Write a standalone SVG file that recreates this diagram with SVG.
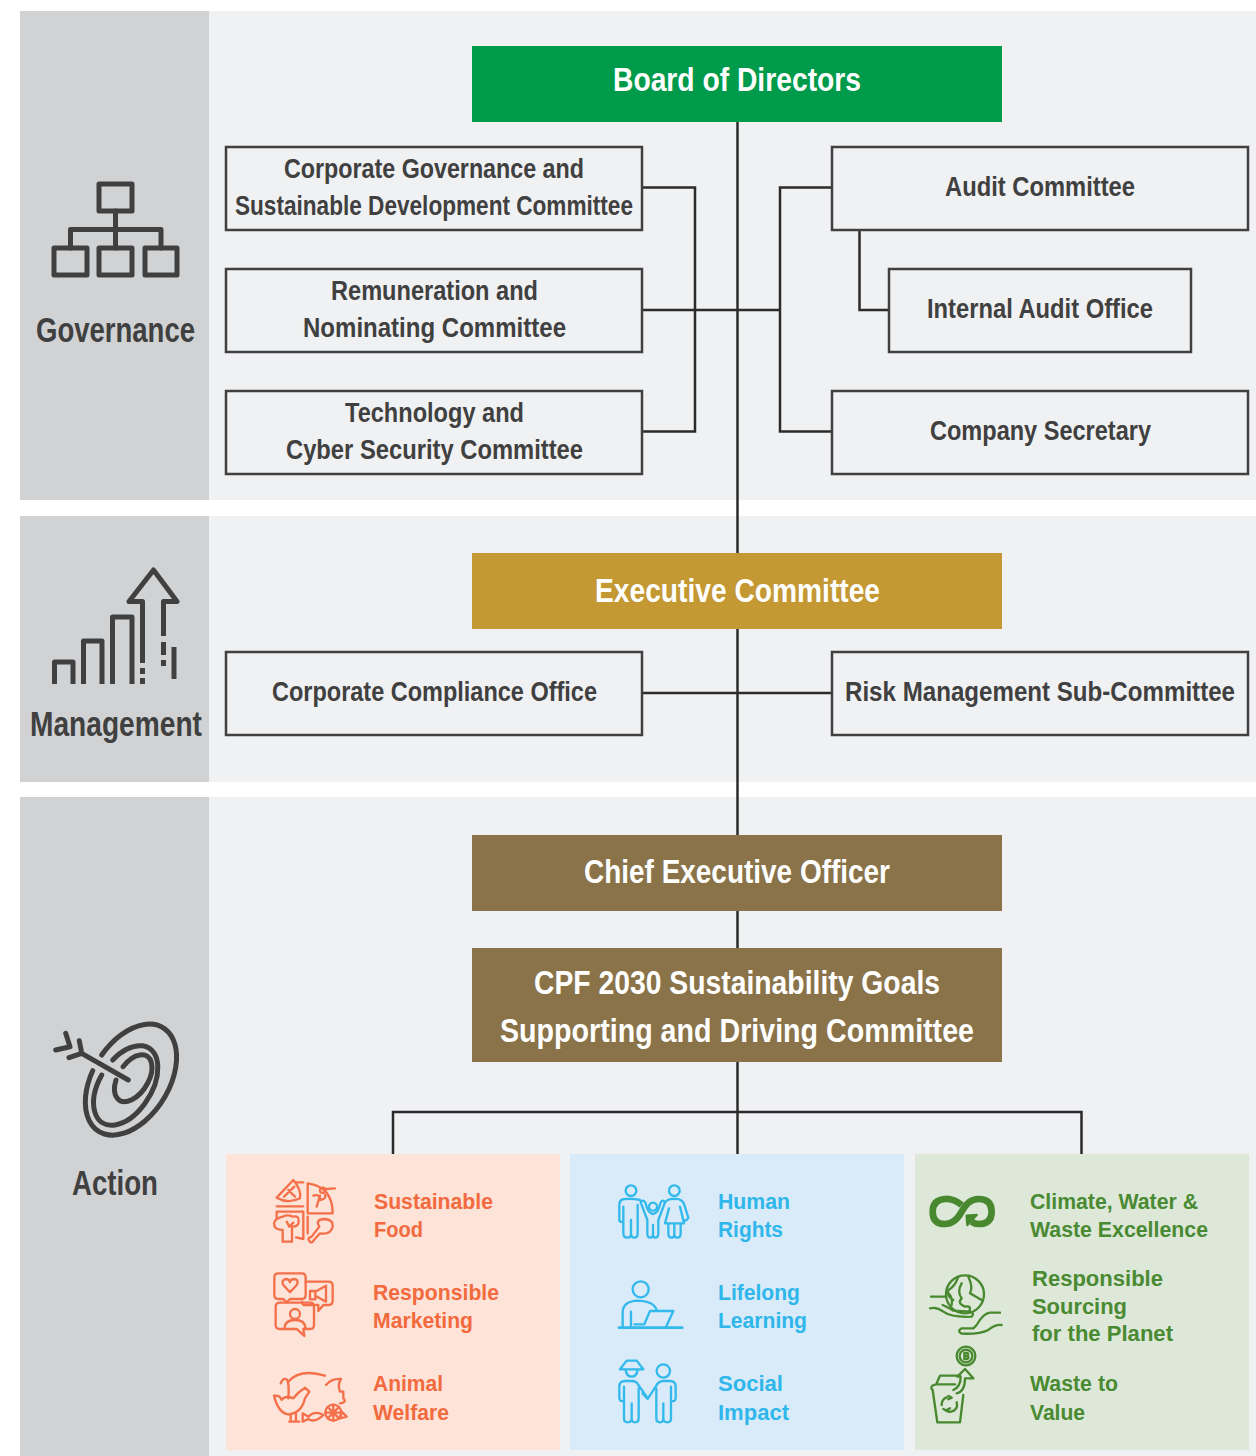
<svg xmlns="http://www.w3.org/2000/svg" width="1256" height="1456" viewBox="0 0 1256 1456">
<style>
text{font-family:"Liberation Sans",Arial,sans-serif;font-weight:700}
.band{fill:#f0f1f3}.side{fill:#d1d2d4}
.box{fill:#f0f1f3;stroke:#404040;stroke-width:2.5}
.wire{fill:none;stroke:#2b2b2b;stroke-width:2.5}
.t{font-size:27px;fill:#404040;transform:translateY(-.5px)}
.h{font-size:33px;fill:#fff;transform:translateY(-.5px)}
.s{font-size:35px;fill:#404040}
.b{font-size:22px}
.o{fill:#f26a3e}.u{fill:#2fb6ea}.g{fill:#4a8a32}
.ic{fill:none;stroke:#404040;stroke-width:5;stroke-linecap:round;stroke-linejoin:round}
.ib{fill:none;stroke:#404040;stroke-width:5;stroke-linejoin:round}
.io,.iu,.ig{fill:none;stroke-width:7;stroke-linecap:round;stroke-linejoin:round}
.io{stroke:#f4704a}.iu{stroke:#33b9ec}.ig{stroke:#48882f}
.inf{stroke-width:20;stroke-linecap:butt}
.desk{stroke-width:8}
</style>
<rect class="band" x="209" y="11" width="1047" height="489"/>
<rect class="band" x="209" y="516" width="1047" height="266"/>
<rect class="band" x="209" y="797" width="1047" height="659"/>
<rect class="side" x="20" y="11" width="189" height="489"/>
<rect class="side" x="20" y="516" width="189" height="266"/>
<rect class="side" x="20" y="797" width="189" height="659"/>

<g id="connectors" class="wire">
<path d="M737.5 122V1154"/>
<path d="M642 187.500H695V431.500H642M642 310H780M832 187.500H780V431.500H832"/>
<path d="M859.500 230V310H889"/>
<path d="M642 693H832"/>
<path d="M393 1154V1112H1081.500V1154"/>
</g>

<g id="governance-label">
<rect class="ic" x="99" y="184" width="33" height="27"/>
<rect class="ic" x="54" y="248" width="33" height="27"/>
<rect class="ic" x="99" y="248" width="33" height="27"/>
<rect class="ic" x="145" y="248" width="32" height="27"/>
<path class="ic" d="M115.500 211V248M70.500 248V229.500H161V248"/>
<text class="s" x="36" y="342" textLength="159" lengthAdjust="spacingAndGlyphs">Governance</text>
</g>
<g id="management-label">
<path class="ib" d="M54.500 684V662H73V684M83.500 684V641H102V684M112.500 684V617H132V684"/>
<path class="ib" d="M142.500 663V601.500H129L153.500 570L177 601.500H163.500V636"/>
<path class="ib" d="M142.500 668V674M142.500 678V684M163.500 642V655M163.500 660V666M174 647V679"/>
<text class="s" x="30" y="736" textLength="172" lengthAdjust="spacingAndGlyphs">Management</text>
</g>
<g id="action-label">
<path class="ic" d="M101.700 1055A61 38 -58 1 1 92.700 1070.700"/>
<path class="ic" d="M112.700 1060A44 26 -58 1 1 101.700 1075"/>
<path class="ic" d="M123 1066.700A26 15 -58 1 1 116 1080"/>
<path class="ic" d="M128.300 1080L81.700 1053.300M79.300 1040.700L81.700 1053.300L69 1057.700M65.700 1033.300L70 1046.700L55.700 1050"/>
<text class="s" x="72" y="1195" textLength="86" lengthAdjust="spacingAndGlyphs">Action</text>
</g>

<g id="board"><rect x="472" y="46" width="530" height="76" fill="#009b4a"/><text class="h" x="613" y="91" textLength="248" lengthAdjust="spacingAndGlyphs">Board of Directors</text></g>
<g id="cgsd"><rect class="box" x="226" y="147" width="416" height="83"/><text class="t" x="284" y="178" textLength="300" lengthAdjust="spacingAndGlyphs">Corporate Governance and</text><text class="t" x="235" y="215" textLength="398" lengthAdjust="spacingAndGlyphs">Sustainable Development Committee</text></g>
<g id="remuneration"><rect class="box" x="226" y="269" width="416" height="83"/><text class="t" x="331" y="300" textLength="207" lengthAdjust="spacingAndGlyphs">Remuneration and</text><text class="t" x="303" y="337" textLength="263" lengthAdjust="spacingAndGlyphs">Nominating Committee</text></g>
<g id="technology"><rect class="box" x="226" y="391" width="416" height="83"/><text class="t" x="345" y="422" textLength="179" lengthAdjust="spacingAndGlyphs">Technology and</text><text class="t" x="286" y="459" textLength="297" lengthAdjust="spacingAndGlyphs">Cyber Security Committee</text></g>
<g id="audit"><rect class="box" x="832" y="147" width="416" height="83"/><text class="t" x="945" y="196" textLength="190" lengthAdjust="spacingAndGlyphs">Audit Committee</text></g>
<g id="internal-audit"><rect class="box" x="889" y="269" width="302" height="83"/><text class="t" x="927" y="318" textLength="226" lengthAdjust="spacingAndGlyphs">Internal Audit Office</text></g>
<g id="secretary"><rect class="box" x="832" y="391" width="416" height="83"/><text class="t" x="930" y="440" textLength="221" lengthAdjust="spacingAndGlyphs">Company Secretary</text></g>
<g id="executive"><rect x="472" y="553" width="530" height="76" fill="#c49833"/><text class="h" x="595" y="602" textLength="285" lengthAdjust="spacingAndGlyphs">Executive Committee</text></g>
<g id="compliance"><rect class="box" x="226" y="652" width="416" height="83"/><text class="t" x="272" y="701" textLength="325" lengthAdjust="spacingAndGlyphs">Corporate Compliance Office</text></g>
<g id="risk"><rect class="box" x="832" y="652" width="416" height="83"/><text font-size="27" fill="#404040" transform="translate(845 700.500) scale(.86 1)" textLength="453.500" lengthAdjust="spacingAndGlyphs">Risk Management Sub-Committee</text></g>
<g id="ceo"><rect x="472" y="835" width="530" height="76" fill="#8a7349"/><text class="h" x="584" y="883" textLength="306" lengthAdjust="spacingAndGlyphs">Chief Executive Officer</text></g>
<g id="cpf"><rect x="472" y="948" width="530" height="114" fill="#8a7349"/><text class="h" x="534" y="994" textLength="406" lengthAdjust="spacingAndGlyphs">CPF 2030 Sustainability Goals</text><text class="h" x="500" y="1042" textLength="474" lengthAdjust="spacingAndGlyphs">Supporting and Driving Committee</text></g>

<g id="panel-orange">
<rect x="226" y="1154" width="334" height="296" fill="#fde3d8"/>
<g class="io" transform="translate(260 1165) scale(.3333)">
<path d="M50 98L100 45Q125 75 120 100Q85 118 50 98ZM72 95L103 65M85 75L105 95M105 52H130M50 124H130"/>
<path d="M143 55Q218 65 218 145H143ZM170 125L180 92M160 92Q178 85 182 105Q200 100 195 90M200 72L225 70"/><circle cx="188" cy="76" r="8"/>
<path d="M50 140H130V222L108 217M50 140V160M68 155Q83 147 98 155Q118 150 116 170Q116 185 96 185V230H68V195Q42 195 42 175Q45 160 68 155ZM80 170L88 185L100 173"/>
<path d="M143 155V205M155 215L178 185Q165 165 190 162Q220 162 218 185Q212 210 180 205L162 225Q155 238 148 228Q140 220 155 215Z"/>
<path d="M55 325H125Q137 325 137 337V390Q137 402 125 402H90L80 412L70 402H55Q43 402 43 390V337Q43 325 55 325ZM90 382L70 360Q62 345 78 342Q88 342 90 352Q92 342 104 342Q118 345 110 360Z"/>
<path d="M137 350H205Q218 350 218 362V408Q218 420 205 420H190L175 438V420H135Q125 420 127 410M150 378H166V403H150ZM166 380L198 362V410L166 392"/>
<path d="M60 413H150Q162 413 162 425V480Q162 492 150 492H130L133 513L110 492H60Q47 492 47 480V425Q47 413 60 413ZM73 490Q75 465 105 465Q135 465 137 490"/><circle cx="105" cy="447" r="15"/>
<path d="M62 655Q70 635 82 645Q88 660 85 700M85 650Q120 610 195 632M198 660Q215 640 243 642Q232 660 240 680L250 680V700Q262 712 240 715"/>
<path d="M42 692Q60 690 65 705Q75 690 100 700Q115 680 135 668L148 680L135 700Q125 745 85 748Q55 745 42 692ZM92 748V770M108 745V770M88 770H118"/>
<path d="M128 745L145 755Q165 735 190 750Q165 775 145 762L128 770Z"/><circle cx="220" cy="743" r="24"/><path d="M220 719V767M196 743H244M203 726L237 760M237 726L203 760M245 740L260 755L240 760Z"/>
</g>
<text class="b o" x="374" y="1209" textLength="119" lengthAdjust="spacingAndGlyphs">Sustainable</text><text class="b o" x="374" y="1237" textLength="49" lengthAdjust="spacingAndGlyphs">Food</text>
<text class="b o" x="373" y="1300" textLength="126" lengthAdjust="spacingAndGlyphs">Responsible</text><text class="b o" x="373" y="1328" textLength="100" lengthAdjust="spacingAndGlyphs">Marketing</text>
<text class="b o" x="373" y="1391" textLength="70" lengthAdjust="spacingAndGlyphs">Animal</text><text class="b o" x="373" y="1420" textLength="76" lengthAdjust="spacingAndGlyphs">Welfare</text>
</g>

<g id="panel-blue">
<rect x="570" y="1154" width="334" height="296" fill="#d9ebf9"/>
<g class="iu" transform="translate(605 1165) scale(.3333)">
<circle cx="78" cy="77" r="16"/><path d="M105 105Q85 100 60 102Q43 102 43 120V165Q43 172 55 170V125M55 125V205Q55 218 68 218Q78 218 78 205V165V205Q78 218 88 218Q98 218 98 205V120"/>
<circle cx="144" cy="125" r="12"/><path d="M107 112Q115 100 122 115Q128 145 144 147Q160 145 166 115Q172 100 180 112L160 165V205Q160 218 150 218Q144 218 144 205V180V205Q144 218 136 218Q127 218 127 205V165L107 112"/>
<circle cx="208" cy="77" r="16"/><path d="M180 112Q190 100 208 102Q232 100 238 120L250 158Q245 170 235 165L225 125L237 175H180L192 130M190 175V205Q190 218 200 218Q208 218 208 205V175V205Q208 218 217 218Q227 218 227 205V175"/>
<circle cx="107" cy="373" r="24"/><path d="M53 488V440Q55 410 95 407Q145 407 155 435M78 440V488M88 478H118L135 438H205L182 488"/><path class="desk" d="M42 488H232"/>
<path d="M45 613H115L95 587H65ZM62 615Q65 635 80 635Q95 635 98 615"/><circle cx="175" cy="618" r="20"/>
<path d="M125 695L100 660Q95 648 80 648H60Q43 648 43 665V700Q43 710 57 708V665M57 665V760Q57 772 68 772Q80 772 80 760V715V760Q80 772 90 772Q101 772 101 760V670"/>
<path d="M112 685L128 702L152 665Q160 648 175 648H195Q212 648 212 665V700Q212 710 198 708V665M198 665V760Q198 772 187 772Q175 772 175 760V715V760Q175 772 165 772Q154 772 154 760V670"/>
</g>
<text class="b u" x="718" y="1209" textLength="72" lengthAdjust="spacingAndGlyphs">Human</text><text class="b u" x="718" y="1237" textLength="65" lengthAdjust="spacingAndGlyphs">Rights</text>
<text class="b u" x="718" y="1300" textLength="82" lengthAdjust="spacingAndGlyphs">Lifelong</text><text class="b u" x="718" y="1328" textLength="89" lengthAdjust="spacingAndGlyphs">Learning</text>
<text class="b u" x="718" y="1391" textLength="65" lengthAdjust="spacingAndGlyphs">Social</text><text class="b u" x="718" y="1420" textLength="71" lengthAdjust="spacingAndGlyphs">Impact</text>
</g>

<g id="panel-green">
<rect x="915" y="1154" width="334" height="296" fill="#dde8d8"/>
<g class="ig" transform="translate(920 1165) scale(.3333)">
<path class="inf" d="M125 120Q100 100 75 102Q38 105 38 140Q38 177 75 177Q105 177 125 140Q145 102 175 102Q215 102 215 140Q215 177 175 177Q165 177 155 170"/>
<path fill="#48882f" d="M140 152L170 150L142 180Z"/>
<circle cx="135" cy="388" r="57"/>
<path d="M145 335Q160 365 150 385L185 405M115 335Q105 365 85 375Q80 395 100 405M125 355Q110 380 125 400Q110 415 135 425Q155 420 148 440M80 380Q100 395 95 420"/>
<path d="M33 395H78M30 430Q50 425 70 440Q95 458 155 455Q165 445 150 440L100 437Q80 425 68 420"/>
<path d="M240 443H210Q190 445 170 480L160 490H125Q110 498 125 506Q180 508 205 495Q225 478 245 480"/>
<circle cx="138" cy="573" r="28"/><circle cx="138" cy="573" r="19"/><path d="M133 564V582M133 564H142Q147 568 142 573H133M142 573Q149 577 142 582H133"/>
<path d="M38 675L52 772H120L130 690M35 672Q30 660 50 658H105M50 655L60 632H120M110 685Q135 680 135 640H160L135 612L112 635H122Q122 665 100 675"/>
<path d="M65 720Q65 702 80 697M85 693L95 698L85 703M110 712Q115 730 100 738M88 741L80 735L90 730M70 732Q85 745 98 738"/>
</g>
<text class="b g" x="1030" y="1209" textLength="168" lengthAdjust="spacingAndGlyphs">Climate, Water &amp;</text><text class="b g" x="1030" y="1237" textLength="178" lengthAdjust="spacingAndGlyphs">Waste Excellence</text>
<text class="b g" x="1032" y="1286" textLength="131" lengthAdjust="spacingAndGlyphs">Responsible</text><text class="b g" x="1032" y="1314" textLength="95" lengthAdjust="spacingAndGlyphs">Sourcing</text><text class="b g" x="1032" y="1341" textLength="141" lengthAdjust="spacingAndGlyphs">for the Planet</text>
<text class="b g" x="1030" y="1391" textLength="88" lengthAdjust="spacingAndGlyphs">Waste to</text><text class="b g" x="1030" y="1420" textLength="55" lengthAdjust="spacingAndGlyphs">Value</text>
</g>
</svg>
